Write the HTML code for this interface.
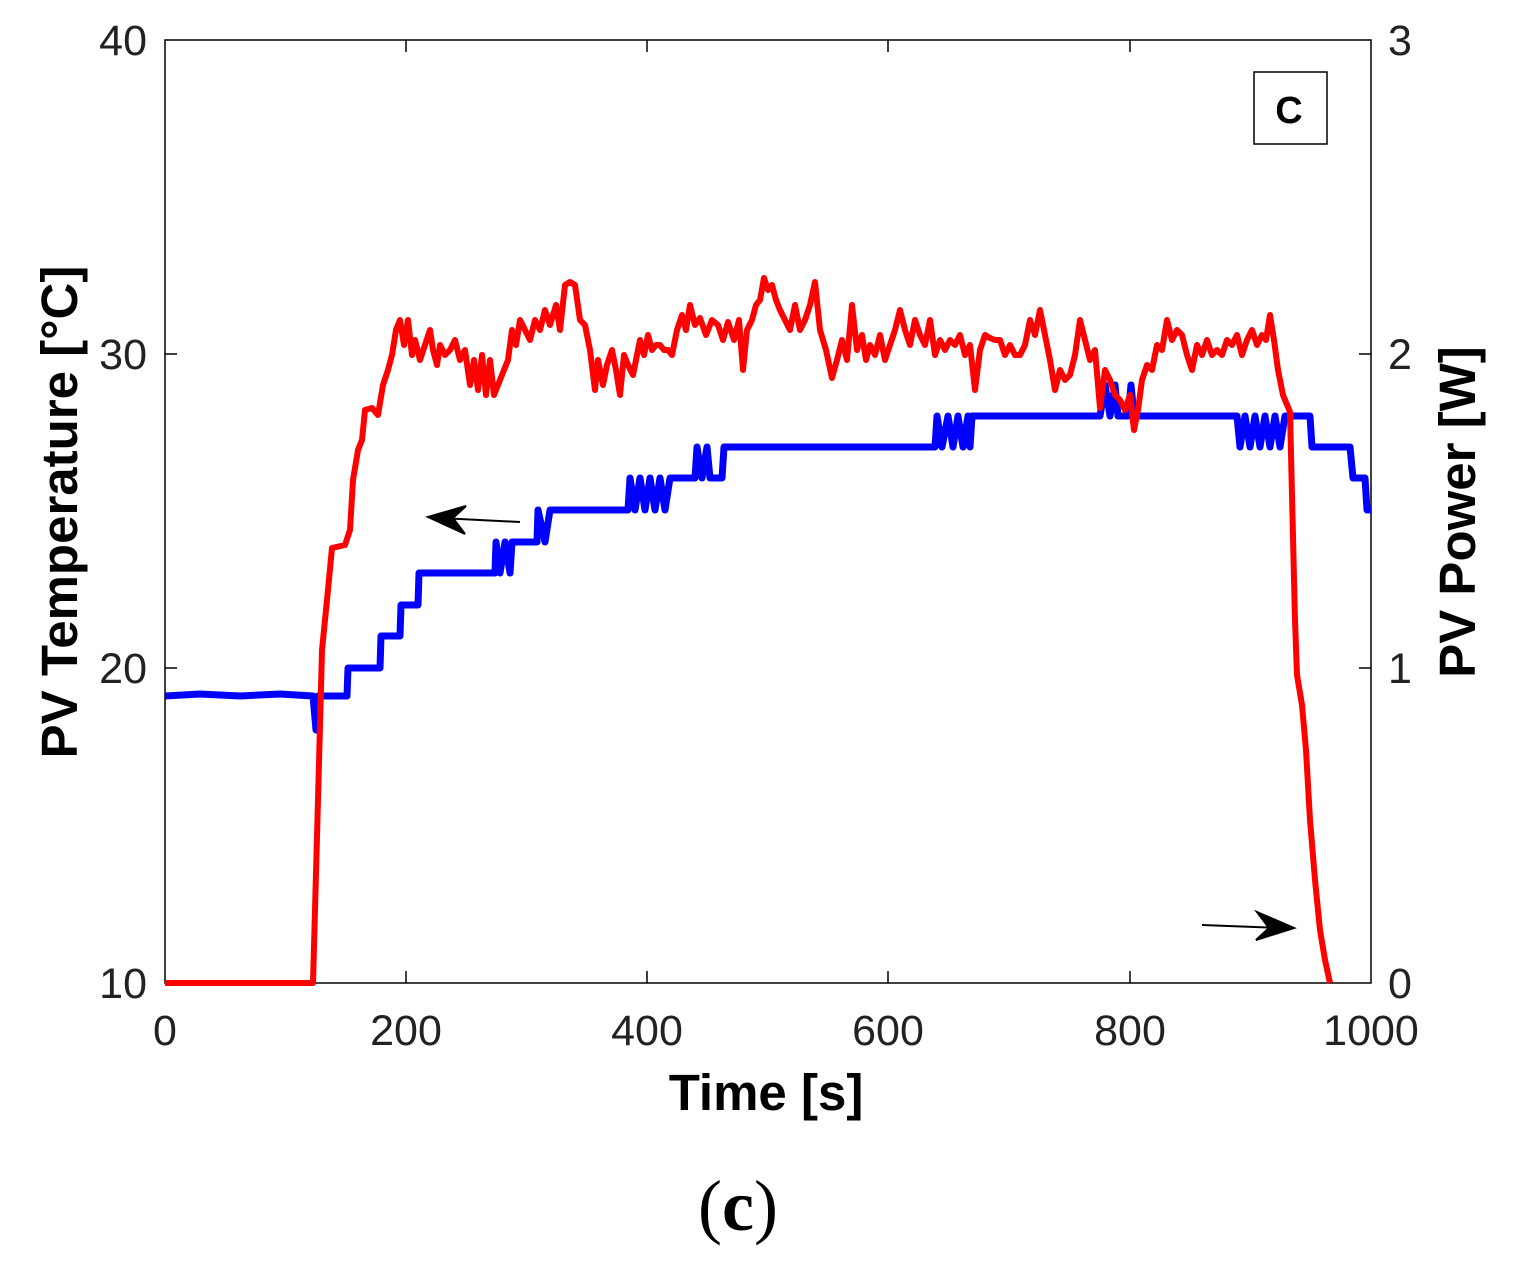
<!DOCTYPE html>
<html><head><meta charset="utf-8"><style>
body{margin:0;background:#fff}
svg text{font-family:"Liberation Sans",sans-serif}
</style></head><body>
<svg width="1525" height="1273" xmlns="http://www.w3.org/2000/svg">
<rect x="0" y="0" width="1525" height="1273" fill="#fff"/>
<g stroke="#000" stroke-width="1.5" fill="none">
<rect x="165" y="40" width="1206" height="943"/>
<path d="M406 983v-12M647 983v-12M888 983v-12M1130 983v-12M406 40v12M647 40v12M888 40v12M1130 40v12M165 668h12M165 354h12M1371 668h-12M1371 354h-12"/>
</g>
<g font-size="43" fill="#222">
<text x="165" y="1045" text-anchor="middle">0</text>
<text x="406" y="1045" text-anchor="middle">200</text>
<text x="647" y="1045" text-anchor="middle">400</text>
<text x="888" y="1045" text-anchor="middle">600</text>
<text x="1130" y="1045" text-anchor="middle">800</text>
<text x="1371" y="1045" text-anchor="middle">1000</text>
<text x="147" y="998" text-anchor="end">10</text>
<text x="147" y="683" text-anchor="end">20</text>
<text x="147" y="369" text-anchor="end">30</text>
<text x="147" y="55" text-anchor="end">40</text>
<text x="1388" y="998">0</text>
<text x="1388" y="683">1</text>
<text x="1388" y="369">2</text>
<text x="1388" y="55">3</text>
</g>
<text x="766" y="1110" font-size="51" font-weight="bold" text-anchor="middle">Time [s]</text>
<text transform="translate(77,512) rotate(-90)" font-size="51" font-weight="bold" text-anchor="middle">PV Temperature [°C]</text>
<text transform="translate(1475,512) rotate(-90)" font-size="51" font-weight="bold" text-anchor="middle">PV Power [W]</text>
<rect x="1254" y="72" width="73" height="72" fill="#fff" stroke="#000" stroke-width="1.5"/>
<text x="1289" y="123" font-size="38" font-weight="bold" text-anchor="middle">C</text>
<text x="738" y="1230" font-size="72" text-anchor="middle" style="font-family:'Liberation Serif',serif">(<tspan font-weight="bold">c</tspan>)</text>
<polyline fill="none" stroke="#0000ff" stroke-width="7" stroke-linejoin="round" points="165,696 200,694 240,696 280,694 313,696 316,730 318,696 347,696 348,668 380,668 381,636 400,636 401,605 418,605 419,573 495,573 496,542 500,573 505,542 510,573 512,542 537,542 538,510 545,542 550,510 628,510 630,478 635,510 640,478 645,510 650,478 655,510 660,478 665,510 670,478 695,478 697,447 702,478 707,447 710,478 722,478 724,447 935,447 937,416 942,447 948,416 953,447 958,416 963,447 968,416 970,447 972,416 1100,416 1105,385 1110,416 1115,385 1118,416 1128,416 1131,385 1134,416 1237,416 1240,447 1245,416 1250,447 1255,416 1260,447 1265,416 1270,447 1275,416 1280,447 1285,416 1310,416 1312,447 1350,447 1353,478 1365,478 1367,510 1371,510"/>
<polyline fill="none" stroke="#ff0000" stroke-width="6" stroke-linejoin="round" points="165,983 305,983 313,983 318,800 322,650 327,600 332,548 345,545 350,530 353,480 358,450 362,440 365,410 372,408 378,415 383,385 388,370 392,355 396,330 400,320 404,345 408,320 412,355 415,340 420,360 425,345 430,330 433,350 437,365 440,345 445,355 450,350 455,340 460,360 465,350 470,385 474,360 478,390 482,355 486,395 490,360 494,395 498,385 502,375 508,360 512,330 516,345 520,320 525,330 530,340 535,320 540,330 545,310 550,325 556,305 560,330 565,285 570,282 575,285 580,320 585,325 590,350 595,390 598,360 603,385 607,365 612,350 616,370 620,395 624,355 628,365 633,375 636,360 640,340 644,355 648,335 652,350 656,345 660,345 664,350 668,350 672,355 677,330 682,315 686,330 690,305 695,325 700,318 706,335 712,320 718,325 723,340 728,322 734,340 739,320 743,370 747,330 752,320 756,305 760,300 764,278 768,290 772,285 776,300 780,310 785,320 790,330 795,305 800,330 805,320 810,305 815,282 820,330 826,350 832,378 837,360 842,340 847,360 852,305 857,350 862,335 866,360 870,345 875,355 880,335 885,360 890,345 895,330 900,310 905,330 910,345 915,320 920,335 925,345 930,320 935,355 940,340 945,350 950,340 955,345 960,335 965,355 970,345 975,390 980,350 985,335 990,338 995,340 1000,340 1005,355 1010,345 1015,355 1020,355 1025,345 1030,320 1035,335 1040,310 1045,335 1050,360 1055,390 1060,370 1065,380 1070,375 1075,355 1080,320 1085,340 1090,360 1095,350 1100,408 1105,370 1110,380 1115,395 1120,400 1125,410 1130,395 1134,430 1138,410 1142,380 1147,365 1152,370 1157,345 1162,350 1167,320 1172,340 1177,330 1182,335 1187,355 1192,370 1197,345 1202,355 1207,340 1212,355 1217,350 1222,355 1227,340 1232,345 1237,335 1242,355 1247,340 1252,330 1257,345 1262,335 1266,340 1270,315 1274,340 1278,370 1283,395 1290,412 1295,620 1297,675 1302,705 1306,750 1310,820 1315,880 1320,930 1325,960 1330,983"/>
<g stroke="#000" stroke-width="2" fill="#000">
<line x1="520" y1="522" x2="440" y2="518"/>
<path d="M428,517 L466,506 L453,518 L465,534 Z"/>
<line x1="1202" y1="925" x2="1282" y2="928"/>
<path d="M1294,928 L1256,940 L1269,928 L1257,912 Z"/>
</g>
</svg>
</body></html>
